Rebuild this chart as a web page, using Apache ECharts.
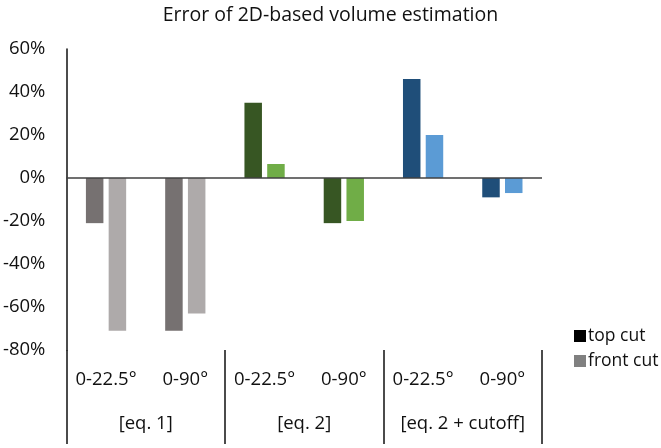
<!DOCTYPE html>
<html>
<head>
<meta charset="utf-8">
<script src="https://cdn.jsdelivr.net/npm/echarts@6/dist/echarts.min.js"></script>
<style>html,body{margin:0;padding:0;background:#fff}#c{width:661px;height:448px}</style>
</head>
<body>
<div id="c"></div>
<script>
const title = 'Error of 2D-based volume estimation';
const categories = ['0-22.5°', '0-90°', '0-22.5°', '0-90°', '0-22.5°', '0-90°'];
const groups = ['[eq. 1]', '[eq. 2]', '[eq. 2 + cutoff]'];
const topCut = [-0.21, -0.71, 0.35, -0.21, 0.46, -0.09];
const frontCut = [-0.71, -0.63, 0.065, -0.20, 0.20, -0.07];
const seriesNames = ['top cut', 'front cut'];
const yMin = -0.8, yMax = 0.6, yStep = 0.2;

const darkColors = ['#767171', '#767171', '#375623', '#375623', '#1F4E79', '#1F4E79'];
const lightColors = ['#AEAAAA', '#AEAAAA', '#70AD47', '#70AD47', '#5B9BD5', '#5B9BD5'];
const FONT = 'Open Sans';

const chart = echarts.init(document.getElementById('c'));
chart.setOption({
  animation: false,
  backgroundColor: '#fff',
  textStyle: { fontFamily: FONT },
  title: {
    text: title, left: 'center', top: 0,
    textStyle: { fontFamily: FONT, fontSize: 19.5, fontWeight: 'normal', color: '#111' }
  },
  legend: {
    orient: 'vertical', left: 569, top: 322, itemGap: 7,
    itemWidth: 12, itemHeight: 12, icon: 'rect',
    textStyle: { fontFamily: FONT, fontSize: 17.5, color: '#111', padding: [0, 0, 0, -3] },
    data: seriesNames
  },
  grid: { left: 64, right: 119, top: 49, bottom: 98, containLabel: false },
  xAxis: [
    {
      type: 'category', data: categories, position: 'bottom',
      axisLine: { show: false, onZero: false }, axisTick: { show: false },
      axisLabel: { interval: 0, margin: 20, fontFamily: FONT, fontSize: 18.5, color: '#111' },
      splitLine: { show: false }
    },
    {
      type: 'category', data: groups, position: 'bottom',
      axisLine: { show: false, onZero: false },
      axisTick: { show: true, interval: 0, length: 94, lineStyle: { color: '#111', width: 1.5 } },
      axisLabel: { interval: 0, hideOverlap: false, margin: 64, fontFamily: FONT, fontSize: 18.5, color: '#111' },
      splitLine: { show: false }
    }
  ],
  yAxis: {
    type: 'value', min: yMin, max: yMax, interval: yStep,
    axisLine: { show: true, lineStyle: { color: '#111', width: 1.5 } },
    axisTick: { show: false },
    splitLine: { show: false },
    axisLabel: {
      margin: 21, fontFamily: FONT, fontSize: 18.5, color: '#111',
      formatter: v => Math.round(v * 100) + '%'
    }
  },
  series: [
    {
      name: seriesNames[0], type: 'bar', xAxisIndex: 0,
      barWidth: 17.5, barGap: '30%',
      itemStyle: { color: '#000' },
      data: topCut.map((v, i) => ({ value: v, itemStyle: { color: darkColors[i] } })),
      markLine: {
        silent: true, symbol: 'none', label: { show: false },
        lineStyle: { color: '#404040', width: 1.5, type: 'solid' },
        data: [{ yAxis: 0 }]
      }
    },
    {
      name: seriesNames[1], type: 'bar', xAxisIndex: 0,
      barWidth: 17.5, barGap: '30%',
      itemStyle: { color: '#808080' },
      data: frontCut.map((v, i) => ({ value: v, itemStyle: { color: lightColors[i] } }))
    }
  ]
});
</script>
</body>
</html>
